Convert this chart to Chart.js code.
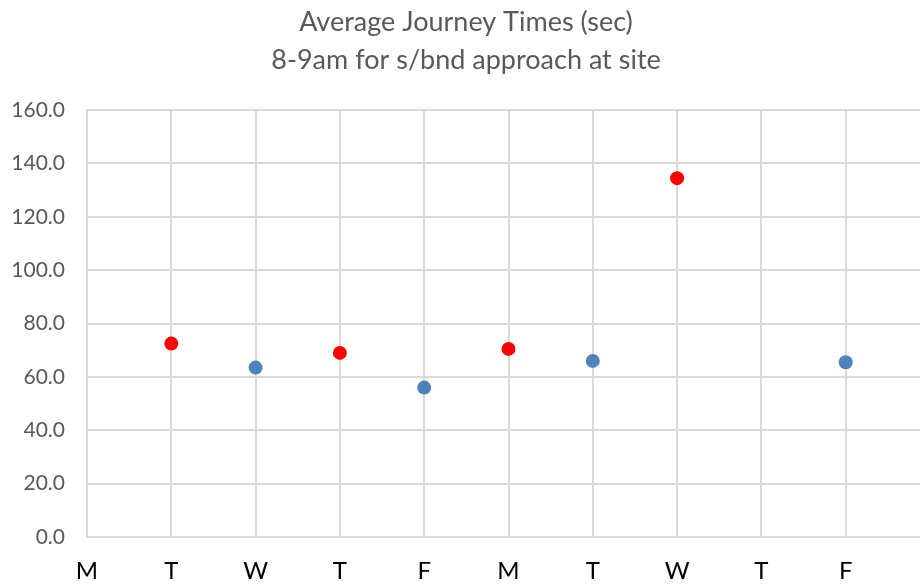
<!DOCTYPE html>
<html>
<head>
<meta charset="utf-8">
<script src="https://cdn.jsdelivr.net/npm/chart.js"></script>
<style>
  html, body { margin: 0; padding: 0; background: #fff; overflow: hidden; }
  #wrap { width: 950px; height: 584px; }
</style>
</head>
<body>
<div id="wrap"><canvas id="journeyChart" width="950" height="584"></canvas></div>
<script>
// weekday labels over two weeks, plus a blank slot at the right edge
const days = ['M', 'T', 'W', 'T', 'F', 'M', 'T', 'W', 'T', 'F', ''];

// average journey times (sec), 8-9am southbound
const redTimes  = [null, 72.5, null, 69.0, null, 70.5, null, 134.5, null, null, null];
const blueTimes = [null, null, 63.5, null, 56.0, null, 66.0, null, null, 65.5, null];

const yTicks = [0, 20, 40, 60, 80, 100, 120, 140, 160];

const gridGrey = '#d9d9d9';
const font = 'Lato, "Noto Sans", sans-serif';

const ctx = document.getElementById('journeyChart').getContext('2d');
new Chart(ctx, {
  type: 'line',
  data: {
    labels: days,
    datasets: [
      {
        label: 'red',
        data: redTimes,
        showLine: false,
        pointRadius: 7,
        pointHoverRadius: 7,
        pointBackgroundColor: '#ff0000',
        pointBorderWidth: 0
      },
      {
        label: 'blue',
        data: blueTimes,
        showLine: false,
        pointRadius: 7,
        pointHoverRadius: 7,
        pointBackgroundColor: '#4f81bd',
        pointBorderWidth: 0
      }
    ]
  },
  options: {
    responsive: false,
    animation: false,
    layout: { padding: { left: 0, right: 18, top: 0, bottom: 0 } },
    plugins: {
      legend: { display: false },
      tooltip: { enabled: false },
      title: {
        display: true,
        text: ['Average Journey Times (sec)', '8-9am for s/bnd approach at site'],
        color: '#595959',
        font: { family: font, size: 27, weight: 'normal', lineHeight: 1.41 },
        padding: { top: 3, bottom: 31 }
      }
    },
    scales: {
      x: {
        offset: false,
        grid: { color: gridGrey, lineWidth: 2, drawTicks: false },
        border: { color: gridGrey, width: 2 },
        ticks: {
          color: '#000',
          padding: 20,
          autoSkip: false,
          maxRotation: 0,
          font: { family: font, size: 24 }
        },
        afterFit: s => { s.height = 47; }
      },
      y: {
        min: 0,
        max: 160,
        afterBuildTicks: s => { s.ticks = yTicks.map(v => ({ value: v })); },
        grid: { color: gridGrey, lineWidth: 2, drawTicks: false },
        border: { color: gridGrey, width: 2 },
        ticks: {
          color: '#595959',
          padding: 22,
          font: { family: font, size: 21 },
          callback: v => Number(v).toFixed(1)
        },
        afterFit: s => { s.width = 87; }
      }
    }
  }
});
</script>
</body>
</html>
